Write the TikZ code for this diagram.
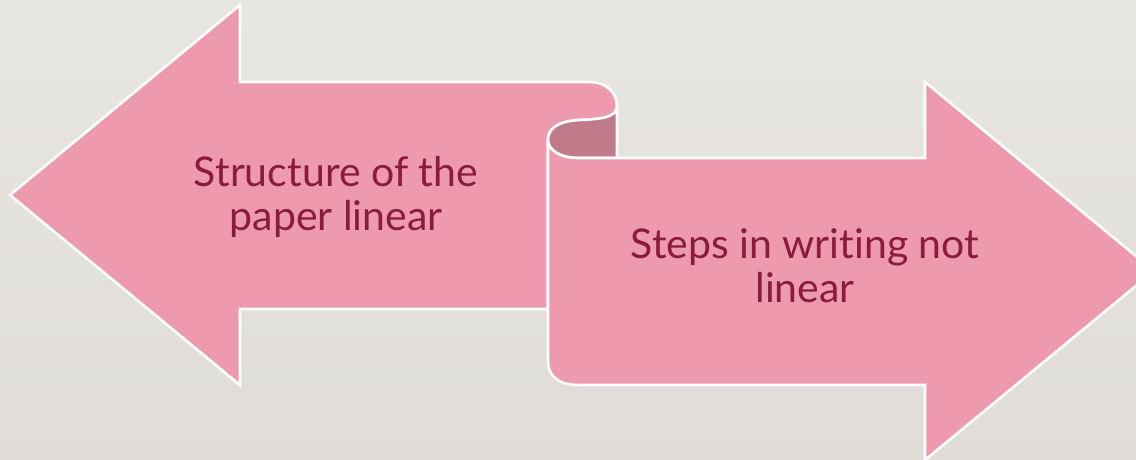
\documentclass[tikz,border=0pt]{standalone}
\usepackage{fontspec}
\setmainfont[Ligatures=NoCommon]{Lato}
\definecolor{bgtop}{HTML}{E8E6E2}
\definecolor{bgbot}{HTML}{E0DDD8}
\definecolor{pinkfill}{HTML}{EE9AAE}
\definecolor{curldark}{HTML}{C07A8A}
\definecolor{textred}{HTML}{8A1B3B}
\tikzset{
  arrowshape/.style={fill=pinkfill, draw=white, line width=2.6pt, line join=miter},
  curlshape/.style={fill=curldark, draw=white, line width=2.6pt},
  label/.style={text=textred, font=\fontsize{41}{44}\selectfont, align=center, anchor=base, inner sep=0pt}
}
\begin{document}
\begin{tikzpicture}[x=1pt,y=-1pt]
\useasboundingbox (0,0) rectangle (1136,459);
\clip (0,0) rectangle (1136,459);
\shade[top color=bgtop, bottom color=bgbot] (0,0) rectangle (1136,459);
% left arrow with the top of the ribbon
\path[arrowshape] (10,195) -- (240,5) -- (240,82) -- (590,82)
  .. controls (605,82) and (617,92) .. (617,106)
  .. controls (617,118) and (600,119) .. (580,120)
  .. controls (556,121) and (548,130) .. (548,140)
  -- (548,309) -- (240,309) -- (240,385) -- cycle;
% inner side of the curl
\path[curlshape] (617,106) -- (617,158) -- (578,158)
  .. controls (560,158) and (548,150) .. (548,140)
  .. controls (548,130) and (556,121) .. (580,120)
  .. controls (600,119) and (617,118) .. (617,106) -- cycle;
% right arrow
\path[arrowshape] (548,140) .. controls (548,150) and (560,158) .. (578,158)
  -- (925,158) -- (925,82) -- (1154,271) -- (925,460) -- (925,385) -- (580,385)
  .. controls (560,385) and (548,378) .. (548,360) -- cycle;
\node[label] (left) at (336,230) {Structure of the\\paper linear};
\node[label] (right) at (805,302) {Steps in writing not\\linear};
\end{tikzpicture}
\end{document}
